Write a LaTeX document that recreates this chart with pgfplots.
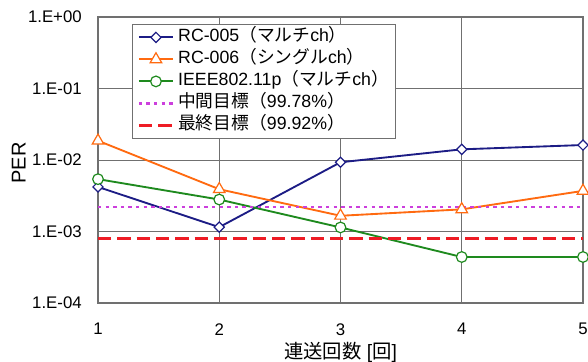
\documentclass[border=0pt]{standalone}
\usepackage{fontspec}
\setmainfont{Liberation Sans}
\newfontfamily\jpfont{Noto Sans CJK JP}
\newcommand{\jp}[1]{{\jpfont #1}}
\usepackage{pgfplots}
\pgfplotsset{compat=1.18}
\definecolor{cnavy}{HTML}{1C1C85}
\definecolor{corange}{HTML}{FF6A10}
\definecolor{cgreen}{HTML}{1E8A1E}
\definecolor{cmag}{HTML}{CC3FDD}
\definecolor{cred}{HTML}{EE1C25}
\definecolor{cgrid}{HTML}{707070}
\begin{document}
\begin{tikzpicture}
\fontsize{12.6}{14}\selectfont
\begin{axis}[
  at={(0,0)}, anchor=south west,
  scale only axis,
  width=363.75pt, height=214.5pt,
  xmin=1, xmax=5, ymin=1e-4, ymax=1,
  ymode=log,
  xtick={1,2,3,4,5},
  xticklabels={1,2,3,4,5},
  ytick={1e-4,1e-3,1e-2,1e-1,1},
  yticklabels={1.E-04,1.E-03,1.E-02,1.E-01,1.E+00},
  minor tick num=0,
  major tick length=0pt,
  minor tick length=0pt,
  tick style={draw=none},
  grid=major,
  grid style={cgrid, line width=0.6pt},
  axis line style={cgrid, line width=0.8pt},
  ticklabel style={font=\fontsize{12.6}{14}\selectfont},
  yticklabel style={anchor=east, inner sep=0pt, xshift=-12pt},
  xticklabel style={anchor=north, inner sep=0pt, yshift=-15pt},
  every axis x label/.style={at={(axis description cs:0.5,0)}, anchor=center, yshift=-37pt, font=\fontsize{14.5}{16}\selectfont},
  every axis y label/.style={at={(axis description cs:0,0.49)}, anchor=center, rotate=90, yshift=59.5pt, font=\fontsize{15}{16}\selectfont},
  xlabel={\jp{連送回数} [\jp{回}]},
  ylabel={PER},
  legend style={at={(axis description cs:0.070,0.9755)}, anchor=north west,
    draw=cgrid, fill=white, line width=0.6pt, font=\fontsize{13.3}{14}\selectfont,
    inner xsep=4pt, inner ysep=2.5pt, row sep=2pt,
    nodes={inner sep=1pt, text height=9.5pt, text depth=3pt}},
  legend cell align=left,
  legend image code/.code={\draw[mark repeat=2,mark phase=2] plot coordinates {(0cm,0cm)(0.45cm,0cm)(0.9cm,0cm)};},
]
\addplot[cnavy, line width=1.4pt, mark=square*, mark size=2.7pt, mark options={fill=white, line width=0.9pt, rotate=45}]
  coordinates {(1,4.2e-3)(2,1.15e-3)(3,9.3e-3)(4,1.41e-2)(5,1.62e-2)};
\addlegendentry{\hspace{2pt}RC-005\jp{（マルチ}ch\jp{）}}
\addplot[corange, line width=1.4pt, mark=triangle*, mark size=5pt, mark options={fill=white, line width=0.9pt}]
  coordinates {(1,1.86e-2)(2,3.9e-3)(3,1.66e-3)(4,2.04e-3)(5,3.7e-3)};
\addlegendentry{\hspace{2pt}RC-006\jp{（シングル}ch\jp{）}}
\addplot[cgreen, line width=1.4pt, mark=*, mark size=4pt, mark options={fill=white, line width=0.9pt}]
  coordinates {(1,5.4e-3)(2,2.8e-3)(3,1.14e-3)(4,4.4e-4)(5,4.4e-4)};
\addlegendentry{\hspace{2pt}IEEE802.11p\jp{（マルチ}ch\jp{）}}
\addplot[cmag, line width=1.8pt, dash pattern=on 2.5pt off 3.2pt]
  coordinates {(1,2.2e-3)(5,2.2e-3)};
\addlegendentry{\hspace{2pt}\jp{中間目標（}99.78\%\jp{）}}
\addplot[cred, line width=1.8pt, dash pattern=on 10pt off 4.5pt]
  coordinates {(1,8.0e-4)(5,8.0e-4)};
\addlegendentry{\hspace{2pt}\jp{最終目標（}99.92\%\jp{）}}
\end{axis}
\pgfresetboundingbox
\path (-73.5pt,-43.5pt) rectangle (367.5pt,227.25pt);
\end{tikzpicture}
\end{document}
